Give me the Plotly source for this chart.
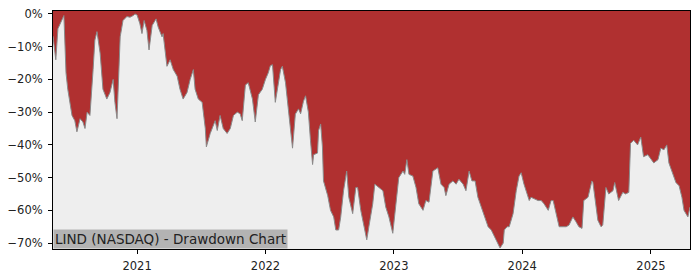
import plotly.graph_objects as go

dates = [
    "2020-05-07","2020-05-15","2020-05-21","2020-05-27","2020-06-04","2020-06-07","2020-06-13","2020-06-18",
    "2020-06-30","2020-07-08","2020-07-14","2020-07-23","2020-07-31","2020-08-06","2020-08-12","2020-08-20",
    "2020-08-29","2020-09-03","2020-09-09","2020-09-18","2020-09-26","2020-10-07","2020-10-16","2020-10-25",
    "2020-10-30","2020-11-05","2020-11-14","2020-11-22","2020-12-03","2020-12-12","2020-12-21","2020-12-26",
    "2021-01-01","2021-01-09","2021-01-15","2021-01-21","2021-01-29","2021-02-04","2021-02-13","2021-02-24",
    "2021-03-02","2021-03-13","2021-03-16","2021-03-27","2021-04-05","2021-04-14","2021-04-25","2021-05-03",
    "2021-05-12","2021-05-23","2021-06-01","2021-06-10","2021-06-15","2021-06-24","2021-07-05","2021-07-14",
    "2021-07-17","2021-07-28","2021-08-11","2021-08-17","2021-08-25","2021-09-03","2021-09-14","2021-09-23",
    "2021-10-02","2021-10-13","2021-10-21","2021-10-27","2021-11-05","2021-11-13","2021-11-25","2021-12-03",
    "2021-12-12","2021-12-23","2022-01-01","2022-01-09","2022-01-15","2022-01-21","2022-01-29","2022-02-04",
    "2022-02-13","2022-02-18","2022-02-27","2022-03-07","2022-03-19","2022-03-27","2022-04-05","2022-04-11",
    "2022-04-19","2022-04-25","2022-05-03","2022-05-09","2022-05-15","2022-05-18","2022-05-29","2022-06-01",
    "2022-06-07","2022-06-12","2022-06-15","2022-06-27","2022-07-05","2022-07-14","2022-07-20","2022-07-28",
    "2022-08-03","2022-08-11","2022-08-20","2022-08-26","2022-09-06","2022-09-15","2022-09-20","2022-09-29",
    "2022-10-07","2022-10-16","2022-10-22","2022-11-02","2022-11-08","2022-11-19","2022-12-01","2022-12-09",
    "2022-12-18","2022-12-29","2023-01-06","2023-01-15","2023-01-27","2023-02-01","2023-02-07","2023-02-13",
    "2023-02-24","2023-03-05","2023-03-13","2023-03-25","2023-04-02","2023-04-11","2023-04-22","2023-05-01",
    "2023-05-06","2023-05-15","2023-05-24","2023-05-29","2023-06-07","2023-06-18","2023-06-27","2023-07-05",
    "2023-07-17","2023-07-25","2023-08-03","2023-08-11","2023-08-20","2023-08-28","2023-09-06","2023-09-15",
    "2023-09-26","2023-10-05","2023-10-13","2023-10-25","2023-10-30","2023-11-08","2023-11-11","2023-11-19",
    "2023-11-25","2023-12-06","2023-12-15","2023-12-23","2023-12-29","2024-01-06","2024-01-18","2024-01-21",
    "2024-01-26","2024-02-04","2024-02-15","2024-02-24","2024-03-03","2024-03-15","2024-03-23","2024-03-29",
    "2024-04-06","2024-04-15","2024-04-26","2024-05-05","2024-05-13","2024-05-24","2024-06-02","2024-06-10",
    "2024-06-19","2024-06-24","2024-07-06","2024-07-12","2024-07-17","2024-07-20","2024-07-26","2024-08-03",
    "2024-08-12","2024-08-17","2024-08-26","2024-09-03","2024-09-15","2024-09-20","2024-09-29","2024-10-01",
    "2024-10-13","2024-10-21","2024-10-30","2024-11-04","2024-11-13","2024-11-24","2024-12-03","2024-12-11",
    "2024-12-23","2025-01-01","2025-01-09","2025-01-21","2025-01-29","2025-02-07","2025-02-15","2025-02-21",
    "2025-03-05","2025-03-13","2025-03-22","2025-03-30","2025-04-05","2025-04-16","2025-04-22",
]

drawdown_pct = [
    -6.8,-14,-4.5,-3,-1.5,-0.5,-18,-23,
    -31,-32.6,-36,-32,-33,-35,-30,-31,
    -17,-8,-5.4,-12,-23,-26,-24,-20,
    -27,-32,-7,-2,-0.8,-1,-0.5,0,
    -0.3,-3,-6,-2,-5,-11,-3.5,-1.5,
    -4,-7,-6,-16,-14,-17,-19,-23,
    -26,-24,-20,-17,-23,-26,-27,-35,
    -40.6,-36.5,-32.6,-35.6,-31,-35,-36.5,-35,
    -31,-30,-30.5,-32.6,-21.7,-21,-26,-33,
    -24.7,-23,-20,-18,-15.8,-15.5,-27,-23,
    -17,-16,-21,-29,-41,-30.6,-29,-30.5,
    -26.7,-25,-30,-38.6,-46,-43,-42.5,-35.6,
    -33.6,-40.6,-51,-55.5,-60,-62,-66,-66,
    -62,-54,-48,-56,-61,-53,-53,-60,
    -64,-69,-65,-58,-52,-53,-54,-59,
    -62,-67,-59,-50,-48,-49,-44.5,-49,
    -49.5,-53,-58,-60,-57,-57.5,-48,-47.5,
    -47,-52,-53,-55.5,-52,-51,-52,-50.5,
    -52,-54,-48,-51,-51,-56,-59,-62,
    -65,-66,-67.7,-70,-71.5,-70,-66,-65,
    -65,-61,-54,-49.5,-48.5,-52,-55.5,-57,
    -56,-56.5,-57,-57,-58,-60,-57,-57,
    -61,-65,-65,-65,-64.5,-62,-63.5,-65,
    -65.5,-57,-56,-53,-51,-51.5,-57,-63,
    -65,-64.5,-53,-55,-54,-51.5,-56,-57,
    -54.5,-55,-54.5,-39.5,-38.6,-40,-37.6,-43.6,
    -43,-44.5,-45.5,-44.5,-41,-41.5,-40,-45.5,
    -49,-51.5,-52.5,-56,-60,-62,-59,
]

y_ticks = [0, -10, -20, -30, -40, -50, -60, -70]
y_tick_labels = ["0%", "\u221210%", "\u221220%", "\u221230%", "\u221240%", "\u221250%", "\u221260%", "\u221270%"]
x_ticks = ["2021-01-01", "2022-01-01", "2023-01-01", "2024-01-01", "2025-01-01"]
x_tick_labels = ["2021", "2022", "2023", "2024", "2025"]
title_text = "LIND (NASDAQ) - Drawdown Chart"

RED = "#b03030"
BG = "#eeeeee"
y_top = 0.9
y_bottom = -71.8

fig = go.Figure()
fig.add_trace(go.Scatter(
    x=dates, y=drawdown_pct, mode="lines",
    line=dict(color="#8a8a8a", width=1),
    fill="tozeroy", fillcolor=RED, hoverinfo="skip",
))
fig.add_shape(type="rect", xref="x domain", yref="y", x0=0, x1=1, y0=0, y1=y_top,
              fillcolor=RED, line=dict(width=0), layer="below")

fig.update_layout(
    width=700, height=280,
    margin=dict(l=53, r=10, t=7, b=28),
    paper_bgcolor="white", plot_bgcolor=BG,
    showlegend=False,
    font=dict(family="DejaVu Sans", size=11, color="#222"),
)
fig.update_xaxes(
    type="date", range=[dates[0], dates[-1]],
    tickvals=x_ticks, ticktext=x_tick_labels,
    showgrid=False, zeroline=False,
    showline=True, linecolor="black", linewidth=1, mirror=True,
    ticks="outside", ticklen=4, tickcolor="black", tickfont=dict(size=11.5),
    ticklabelstandoff=2,
)
fig.update_yaxes(
    range=[y_bottom, y_top],
    tickvals=y_ticks, ticktext=y_tick_labels,
    showgrid=False, zeroline=False,
    showline=True, linecolor="black", linewidth=1, mirror=True,
    ticks="outside", ticklen=4, tickcolor="black", tickfont=dict(size=11.5),
    ticklabelstandoff=3,
)
fig.add_annotation(
    text=title_text, xref="paper", yref="paper", x=0, y=0,
    xanchor="left", yanchor="bottom", showarrow=False,
    bgcolor="#b3b3b3", borderpad=1,
    font=dict(family="DejaVu Sans", size=13.5, color="#222"),
)

fig.write_html("out.html")
